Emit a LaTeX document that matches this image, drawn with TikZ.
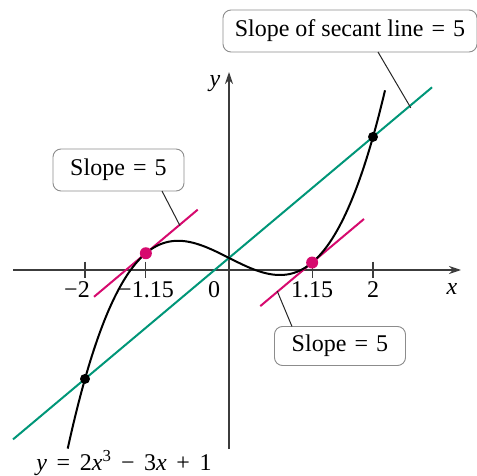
\documentclass[tikz,border=0pt]{standalone}
\usepackage{fontspec}
\setmainfont{Liberation Serif}
\usetikzlibrary{arrows.meta}
\definecolor{secantcol}{RGB}{0,150,120}
\definecolor{tangcol}{RGB}{214,10,110}
\definecolor{axiscol}{RGB}{60,60,60}
\definecolor{boxcol}{RGB}{140,140,140}
\newcommand{\gap}{\hspace{0.34em}}
\newcommand{\wgap}{\hspace{0.4em}}
\tikzset{
  lbl/.style={font=\fontsize{24}{28}\selectfont, inner sep=0pt},
  callout/.style={draw=boxcol, line width=0.9pt, rounded corners=8pt, fill=white,
    font=\fontsize{24}{28}\selectfont, inner sep=0pt},
  pointer/.style={line width=1pt, black!85},
  curvestyle/.style={line width=2pt, black},
  secantstyle/.style={line width=2pt, secantcol},
  tangstyle/.style={line width=2pt, tangcol},
  axisstyle/.style={line width=1.3pt, axiscol},
  tickstyle/.style={line width=1.1pt, axiscol},
  bdot/.style={circle, fill=black, inner sep=0pt, minimum size=10pt},
  mdot/.style={circle, fill=tangcol, inner sep=0pt, minimum size=12pt}
}
\begin{document}
\begin{tikzpicture}[x=1pt, y=-1pt]
\useasboundingbox (0,0) rectangle (477,476);
% axes
\coordinate (xl) at (13,270);
\coordinate (xr) at (461,270);
\coordinate (yb) at (229,449);
\coordinate (yt) at (229,72);
\draw[axisstyle, -{Stealth[length=12pt, width=8pt]}] (xl) -- (xr);
\draw[axisstyle, -{Stealth[length=12pt, width=8pt]}] (yb) -- (yt);
\node[lbl, font=\fontsize{24}{28}\selectfont\itshape] (xlab) at (452,289) {x};
\node[lbl, font=\fontsize{24}{28}\selectfont\itshape] (ylab) at (215,84) {y};
\begin{scope}[shift={(229,270)}, x=72pt, y=12.1pt]
  % ticks
  \foreach \t/\n in {-2/ta,-1.1547/tb,1.1547/tc,2/td}{
    \coordinate (\n u) at (\t,0.7);
    \coordinate (\n d) at (\t,-0.7);
    \draw[tickstyle] (\n u) -- (\n d);
  }
  % secant
  \coordinate (s1) at (-3.0,-14.0);
  \coordinate (s2) at (2.82,15.1);
  \draw[secantstyle] (s1) -- (s2);
  % tangents
  \coordinate (l1) at ({-1.1547-0.72},{1.385-3.6});
  \coordinate (l2) at ({-1.1547+0.72},{1.385+3.6});
  \coordinate (r1) at ({1.1547-0.72},{0.615-3.6});
  \coordinate (r2) at ({1.1547+0.72},{0.615+3.6});
  \draw[tangstyle] (l1) -- (l2);
  \draw[tangstyle] (r1) -- (r2);
  % curve
  \draw[curvestyle] plot[domain=-2.24:2.167, samples=120, smooth] (\x, {2*\x*\x*\x - 3*\x + 1});
  % points
  \node[bdot] (pA) at (-2,-9) {};
  \node[bdot] (pB) at (2,11) {};
  \node[mdot] (pL) at (-1.1547,1.385) {};
  \node[mdot] (pR) at (1.1547,0.615) {};
  \coordinate (secptr) at (2.525,13.4);
  \coordinate (lptr) at (-0.68,3.65);
  \coordinate (rptr) at (0.67,-1.75);
\end{scope}
% tick labels
\node[lbl] (n2) at (77,290) {−2};
\node[lbl] (n115) at (146,290) {−1.15};
\node[lbl] (n0) at (214,290) {0};
\node[lbl] (p115) at (312,290) {1.15};
\node[lbl] (p2) at (373,290) {2};
% callouts
\node[callout, minimum width=254pt, minimum height=42pt] (secbox) at (350,31) {Slope of secant line\gap=\gap5};
\node[callout, minimum width=131pt, minimum height=42pt] (lbox) at (118.5,170) {Slope\gap=\gap5};
\node[callout, minimum width=131pt, minimum height=39pt] (rbox) at (340,346) {Slope\gap=\gap5};
\coordinate (secstart) at (378,52);
\coordinate (lstart) at (162,191);
\coordinate (rstart) at (292,326.5);
\draw[pointer] (secstart) -- (secptr);
\draw[pointer] (lstart) -- (lptr);
\draw[pointer] (rstart) -- (rptr);
% equation
\node[lbl] (eq) at (124,463) {\textit{y}\wgap=\wgap2\textit{x}\textsuperscript{3}\wgap−\wgap3\textit{x}\wgap+\wgap1};
\end{tikzpicture}
\end{document}
